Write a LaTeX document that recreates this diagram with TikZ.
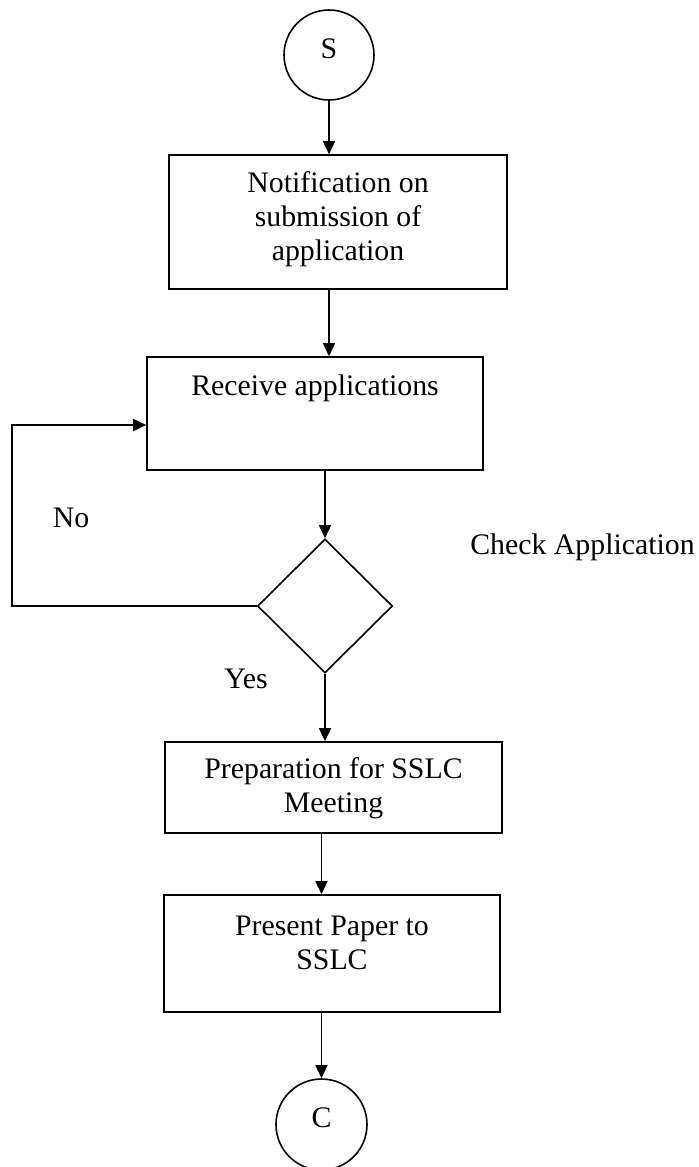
\documentclass[tikz,border=0pt]{standalone}
\usepackage{fontspec}
\setmainfont{Liberation Serif}
\usetikzlibrary{shapes.geometric,arrows.meta}
\newcommand\lnstrut{\rule[-5.1pt]{0pt}{17pt}}
\begin{document}
\begin{tikzpicture}[x=0.5pt,y=-0.5pt,
  line width=0.8pt,
  txt/.style={font=\fontsize{14.9pt}{17pt}\selectfont, inner sep=0pt, align=center},
  term/.style={draw, circle, minimum size=45pt, inner sep=0pt,
    font=\fontsize{14.9pt}{17pt}\selectfont, text height=10pt, text depth=7pt},
  procbox/.style={draw, rectangle, inner sep=0pt},
  decide/.style={draw, diamond, inner sep=0pt, minimum width=67.5pt, minimum height=67pt},
  arr/.style={-{Triangle[length=6.5pt,width=6pt]}}
]
\useasboundingbox (0,0) rectangle (698,1167);
\fill[white] (0,0) rectangle (698,1167);

% terminals
\node[term] (S) at (329,55) {S};
\node[term, minimum size=45.5pt] (C) at (321.5,1124.5) {C};

% boxes
\node[procbox, minimum width=169pt, minimum height=67pt] (b1) at (338,222) {};
\node[txt] (t1) at (338,219.2) {\lnstrut Notification on\\\lnstrut submission of\\\lnstrut application};

\node[procbox, minimum width=168pt, minimum height=56.5pt] (b2) at (315,413.5) {};
\node[txt, anchor=base] (t2) at (315,395) {Receive applications};

\node[decide] (dia) at (325,606) {};

\node[procbox, minimum width=168.5pt, minimum height=45.5pt] (b3) at (333.5,787.5) {};
\node[txt] (t3) at (333.5,788.2) {\lnstrut Preparation for SSLC\\\lnstrut Meeting};

\node[procbox, minimum width=168pt, minimum height=58.5pt] (b4) at (332,953.5) {};
\node[txt] (t4) at (332,945.2) {\lnstrut Present Paper to\\\lnstrut SSLC};

% labels
\node[txt, anchor=base] (no) at (71,527) {No};
\node[txt, anchor=base] (yes) at (246,688) {Yes};
\node[txt, anchor=base] (chk) at (582.5,554) {Check Application};

% connectors
\draw[arr] (S.south) -- (S.south |- b1.north);
\draw[arr] (b1.south -| S) -- (b2.north -| S);
\draw[arr] (b2.south -| dia) -- (dia.north);
\draw[arr] (dia.south) -- (dia.south |- b3.north);
\draw[arr] (b3.south -| C) -- (b4.north -| C);
\draw[arr] (b4.south -| C) -- (C.north);

\coordinate (lp1) at (12,606);
\coordinate (lp2) at (12,425);
\draw[arr] (dia.west) -- (lp1) -- (lp2) -- (lp2 -| b2.west);
\end{tikzpicture}
\end{document}
